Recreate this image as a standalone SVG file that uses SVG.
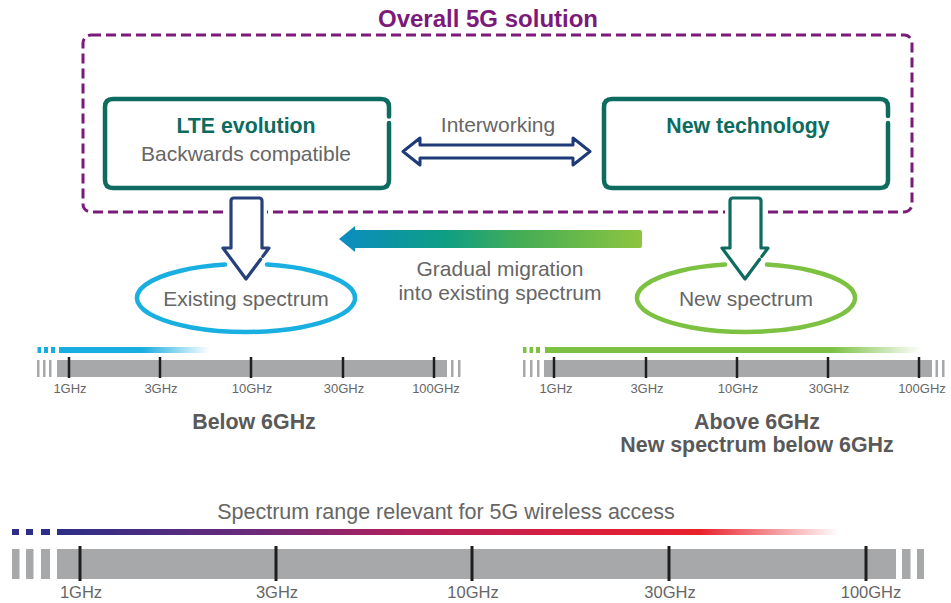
<svg xmlns="http://www.w3.org/2000/svg" width="951" height="603" viewBox="0 0 951 603">
<defs>
<style>
text{font-family:"Liberation Sans",Arial,Helvetica,sans-serif;text-anchor:middle}
.reg{font-size:21px;fill:#666}
.b{font-weight:bold}
.grn{fill:#0e6b5f;font-size:21.3px}
.gb{fill:#595959;font-size:21.4px}
.sm{font-size:13px;fill:#666}
.lb{font-size:16.5px;fill:#666}
.box{fill:none;stroke:#0e6b5f;stroke-width:4.5;stroke-linejoin:round;stroke-linecap:round}
.bar{fill:#a7a8aa}
.tk{stroke:#1e1e1e;stroke-width:2.5}
.tkb{stroke:#1e1e1e;stroke-width:3}
.halo{fill:#fff;stroke:#fff;stroke-width:10;stroke-linejoin:round}
.darr{fill:#fff;stroke-width:3.2;stroke-linejoin:round;stroke-linecap:round}
</style>
<linearGradient id="gMig" gradientUnits="userSpaceOnUse" x1="339" y1="0" x2="642" y2="0">
<stop offset="0" stop-color="#0b8cc2"/><stop offset="0.35" stop-color="#0e9e84"/><stop offset="0.6" stop-color="#45ad55"/><stop offset="1" stop-color="#8dc540"/>
</linearGradient>
<linearGradient id="gCyan" gradientUnits="userSpaceOnUse" x1="59" y1="0" x2="210" y2="0">
<stop offset="0" stop-color="#18ade0"/><stop offset="0.55" stop-color="#18ade0"/><stop offset="1" stop-color="#18ade0" stop-opacity="0"/>
</linearGradient>
<linearGradient id="gGreen" gradientUnits="userSpaceOnUse" x1="545" y1="0" x2="922" y2="0">
<stop offset="0" stop-color="#7cc142"/><stop offset="0.76" stop-color="#7cc142"/><stop offset="1" stop-color="#7cc142" stop-opacity="0"/>
</linearGradient>
<linearGradient id="gSpec" gradientUnits="userSpaceOnUse" x1="57" y1="0" x2="840" y2="0">
<stop offset="0" stop-color="#2d2e87"/><stop offset="0.25" stop-color="#6b2a7a"/><stop offset="0.45" stop-color="#b1205c"/><stop offset="0.65" stop-color="#d81e3e"/><stop offset="0.82" stop-color="#e8212a"/><stop offset="1" stop-color="#e8212a" stop-opacity="0"/>
</linearGradient>
</defs>
<rect width="951" height="603" fill="#fff"/>

<g id="overall">
<rect x="83" y="35" width="829" height="177" rx="8" fill="none" stroke="#7b1a7b" stroke-width="3" stroke-dasharray="10 5"/>
<text x="488" y="27" class="b" style="font-size:24px;fill:#7b1a7b">Overall 5G solution</text>
</g>

<g id="lte">
<path class="box" d="M389,123 L389,180 Q389,188 381,188 L113,188 Q105,188 105,180 L105,107 Q105,99 113,99 L381,99 Q389,99 389,107 L389,116.5"/>
<text x="246" y="133" class="b grn">LTE evolution</text>
<text x="246" y="161" class="reg">Backwards compatible</text>
</g>

<g id="newtech">
<path class="box" d="M888,123 L888,180 Q888,188 880,188 L612,188 Q604,188 604,180 L604,107 Q604,99 612,99 L880,99 Q888,99 888,107 L888,116"/>
<text x="748" y="133" class="b grn">New technology</text>
</g>

<g id="existing">
<path d="M267,264.6 A109,34 0 1 1 225,264.6" fill="none" stroke="#19afe1" stroke-width="4.5" stroke-linecap="round"/>
<text x="246" y="306" class="reg">Existing spectrum</text>
</g>

<g id="newspec">
<path d="M767,264.6 A109,34 0 1 1 725,264.6" fill="none" stroke="#7cc142" stroke-width="4.5" stroke-linecap="round"/>
<text x="746" y="306" class="reg">New spectrum</text>
</g>

<g id="interworking-label"><text x="498" y="132" class="reg">Interworking</text></g>
<g id="migration-label">
<text x="500" y="276" class="reg">Gradual migration</text>
<text x="500" y="300" class="reg">into existing spectrum</text>
</g>

<g id="spectrum-below">
<rect x="37.5" y="347" width="3.5" height="6" fill="#18ade0"/><rect x="44" y="347" width="4" height="6" fill="#18ade0"/><rect x="51" y="347" width="4" height="6" fill="#18ade0"/>
<rect x="59" y="347" width="151" height="6" fill="url(#gCyan)"/>
<rect class="bar" x="37" y="360" width="2.5" height="17"/><rect class="bar" x="43" y="360" width="2.5" height="17"/><rect class="bar" x="49" y="360" width="2.5" height="17"/>
<rect class="bar" x="57" y="360" width="390" height="17"/>
<rect class="bar" x="451" y="360" width="2.5" height="17"/><rect class="bar" x="458" y="360" width="2.5" height="17"/>
<line class="tk" x1="69" y1="357" x2="69" y2="378"/><line class="tk" x1="160" y1="357" x2="160" y2="378"/><line class="tk" x1="251" y1="357" x2="251" y2="378"/><line class="tk" x1="343" y1="357" x2="343" y2="378"/><line class="tk" x1="434" y1="357" x2="434" y2="378"/>
<text x="70" y="393" class="sm">1GHz</text><text x="161" y="393" class="sm">3GHz</text><text x="252" y="393" class="sm">10GHz</text><text x="344" y="393" class="sm">30GHz</text><text x="436" y="393" class="sm">100GHz</text>
<text x="254" y="429" class="b gb">Below 6GHz</text>
</g>

<g id="spectrum-above">
<rect x="523" y="347" width="3.5" height="6" fill="#7cc142"/><rect x="529.5" y="347" width="3.5" height="6" fill="#7cc142"/><rect x="536" y="347" width="4" height="6" fill="#7cc142"/>
<rect x="545" y="347" width="377" height="6" fill="url(#gGreen)"/>
<rect class="bar" x="523" y="360" width="2.5" height="17"/><rect class="bar" x="530" y="360" width="2.5" height="17"/><rect class="bar" x="537" y="360" width="2.5" height="17"/>
<rect class="bar" x="544" y="360" width="388" height="17"/>
<rect class="bar" x="935.5" y="360" width="2.5" height="17"/><rect class="bar" x="942" y="360" width="2.5" height="17"/>
<line class="tk" x1="554" y1="357" x2="554" y2="378"/><line class="tk" x1="646" y1="357" x2="646" y2="378"/><line class="tk" x1="737" y1="357" x2="737" y2="378"/><line class="tk" x1="828" y1="357" x2="828" y2="378"/><line class="tk" x1="919" y1="357" x2="919" y2="378"/>
<text x="556" y="393" class="sm">1GHz</text><text x="647" y="393" class="sm">3GHz</text><text x="738" y="393" class="sm">10GHz</text><text x="829" y="393" class="sm">30GHz</text><text x="922" y="393" class="sm">100GHz</text>
<text x="757" y="429" class="b gb">Above 6GHz</text>
<text x="757" y="452" class="b gb">New spectrum below 6GHz</text>
</g>

<g id="spectrum-range">
<text x="446" y="519" class="reg" style="font-size:21.5px">Spectrum range relevant for 5G wireless access</text>
<rect x="12" y="529" width="7" height="6" fill="#2d2e87"/><rect x="26" y="529" width="7" height="6" fill="#2d2e87"/><rect x="41" y="529" width="9" height="6" fill="#2d2e87"/>
<rect x="57" y="529" width="783" height="6" fill="url(#gSpec)"/>
<rect class="bar" x="12" y="549" width="7.5" height="30"/><rect class="bar" x="26" y="549" width="7.5" height="30"/><rect class="bar" x="41" y="549" width="9" height="30"/>
<rect class="bar" x="57" y="549" width="839" height="30"/>
<rect class="bar" x="902" y="549" width="8.5" height="30"/><rect class="bar" x="917" y="549" width="7" height="30"/>
<line class="tkb" x1="80" y1="546" x2="80" y2="581"/><line class="tkb" x1="276" y1="546" x2="276" y2="581"/><line class="tkb" x1="472" y1="546" x2="472" y2="581"/><line class="tkb" x1="669" y1="546" x2="669" y2="581"/><line class="tkb" x1="866" y1="546" x2="866" y2="581"/>
<text x="81" y="598" class="lb">1GHz</text><text x="277" y="598" class="lb">3GHz</text><text x="473" y="598" class="lb">10GHz</text><text x="670" y="598" class="lb">30GHz</text><text x="871" y="598" class="lb">100GHz</text>
</g>

<g id="connectors">
<path d="M403,151.5 L420,138 L420,145 L573,145 L573,138 L590,151.5 L573,165 L573,158 L420,158 L420,165 Z" fill="#fff" stroke="#1f3a78" stroke-width="3" stroke-linejoin="round"/>
<path d="M339,239 L355,226 L355,230 L640,230 Q642,230 642,232 L642,246 Q642,248 640,248 L355,248 L355,252 Z" fill="url(#gMig)"/>
<path class="halo" d="M246,279 L223,248 L231,248 L231,198 L262,198 L262,248 L269,248 Z"/>
<path class="darr" stroke="#26407a" d="M260.7,259.2 L246,279 L223,248 L231,248 L231,201 Q231,198 234,198 L259,198 Q262,198 262,201 L262,248 L269,248 L262.8,256.4"/>
<path class="halo" d="M745,279 L722,248 L730,248 L730,198 L761,198 L761,248 L768,248 Z"/>
<path class="darr" stroke="#0f6b5f" d="M759.7,259.2 L745,279 L722,248 L730,248 L730,201 Q730,198 733,198 L758,198 Q761,198 761,201 L761,248 L768,248 L761.8,256.4"/>
</g>
</svg>
